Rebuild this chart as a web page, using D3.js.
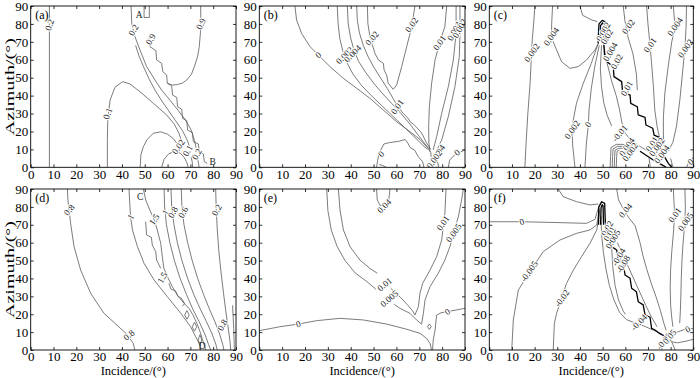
<!DOCTYPE html>
<html><head><meta charset="utf-8">
<script src="https://cdn.jsdelivr.net/npm/d3@7"></script>
<style>body{margin:0;background:#fff}svg{display:block}text{font-family:"Liberation Serif","Times New Roman",serif}</style>
</head><body><svg id="chart" width="700" height="378"></svg>
<script>
// ---------- data (incidence °, azimuth °) ----------
const incidenceTicks = [0,10,20,30,40,50,60,70,80,90];
const azimuthTicks = [0,10,20,30,40,50,60,70,80,90];
const panelTags = ["(a)","(b)","(c)","(d)","(e)","(f)"];

const aLines = [
 [[8.2,0],[8.2,90]],
 [[33.6,0],[33.6,15],[33.8,27],[34.8,37.5],[36.9,44.6],[40.3,47.8],[43.5,46.5],[47.9,42.2],[53.8,35.7],[59.6,29.2],[63,24],[65,19],[66,15]],
 [[44,90],[44.3,80.3],[45.7,72.9],[47.9,65.5],[50.8,56.2],[54.5,48.7],[57.4,43.1],[61,37.5],[64.5,32],[67.8,26.5],[70.3,21],[71.8,15],[72.5,11]],
 [[46,68],[47.5,62],[49.5,56],[52,49],[54.5,43],[57.5,37],[60.5,31.5],[63.5,26],[66.5,20.5],[68.5,15.5],[69.5,12]],
 [[48,0],[48.3,7],[49.4,11.5],[51,15.5],[53.8,19],[57,19.8],[60,18.5],[62.5,16],[64,13.5]],
 [[57.4,0],[58.5,4.5],[60.5,7.5],[63,8.7],[65.5,8],[67.3,5.5],[68.5,2.5],[69,0]],
 [[70.3,6],[70.8,3],[71,0]],
 [[73.2,4.5],[73.6,2],[73.8,0]],
 [[49.7,90],[49.7,83.6],[52,83.6],[52,90]],
 [[60,46.9],[62,45.9],[64,46.1],[66.5,47],[68.4,48.7],[70.5,52],[72,57.1],[73.2,62],[73.9,67.3],[74.4,75],[74.6,82.2],[74.5,90]],
 [[51.9,72.5],[52.3,67.3],[54.9,65.1],[55.2,59.9],[57.4,58],[57.9,53.4],[59.6,51.5],[59.9,46.9],[61.8,45.4],[62.2,40.3],[64,39],[64.4,33.8],[66.2,32.4],[66.6,27.3],[68.4,26],[68.8,20.8],[70.9,19.3],[71.3,14.3],[73.5,13],[73.9,8.7],[75.7,7.4],[76.1,3.2],[77.4,2.2]]
];
const aLabels = [["0.2",8.2,79.5,-70],["0.1",33.7,30,-70],["0.2",45,76.6,-60],["0.9",52.5,71.5,-60],["0.9",74.6,80,-65],["0.02",64.7,11.5,-55],["0.1",68.8,9.3,-60],["0.2",72.8,7.4,-60]];
const aMarks = [["A",47.6,85],["B",79.8,3.2]];

const bLines = [
 [[15.6,90],[16.3,82.2],[18.5,74.7],[22.2,67.3],[25.8,62.7],[30.9,56.2],[36.8,49.6],[42.6,44.1],[48.4,38.5],[54.2,32],[60,25.5],[65.9,19.9],[70.3,15.5],[73.2,11.5],[75,8.5]],
 [[34.1,90],[34.5,80],[35.2,72],[36.5,65],[38.5,58],[41,52],[44.5,46],[49,40],[53.5,34.5],[58,29],[62.5,23.5],[67,18],[71,13],[73.5,10]],
 [[38.5,90],[38.9,80],[40,72],[41.5,65],[43.5,59],[46.5,53],[50,47],[54,41],[58,35.5],[62,30],[66,24],[69.5,18],[72.5,13],[74.5,10]],
 [[42.6,90],[42.9,82],[43.8,75],[45.5,68],[47.5,62],[50,56],[53,50],[56,44],[58.5,38.5],[60.5,34],[63,30],[65,27.5],[66.3,25],[67.5,24],[69,22],[70.5,20],[71.5,18],[73,14],[75,10]],
 [[47.3,90],[47.5,80.3],[48.4,72.9],[50.6,63.6],[52.1,59.9],[54.3,58],[54.6,54.3],[55.7,51.5],[56.4,46.9],[58.6,43.5],[60.1,45.9],[62.3,56.2],[64.5,67.3],[66.7,78.5],[68.1,90]],
 [[82,90],[81.2,78.5],[78.8,69.2],[76.9,59.9],[75.4,46.9],[74.4,33.8],[74.1,22.7],[74.2,13.4],[74.7,8.7]],
 [[86.1,90],[86.1,74.7],[84.9,59.9],[82.7,45],[79.8,30.1],[77.6,17.1],[76.1,9.7]],
 [[87.8,90],[87.8,75],[87.5,61.7],[85.6,45],[82.7,28.3],[79.8,15.2],[77.3,8.7]],
 [[51.3,0],[51.8,4],[52.5,8],[54.5,13],[57,13.8],[61,14.5],[63.8,15.5],[65,13.5],[66,11],[68,9.5],[69.5,6],[71.5,3],[72,0]],
 [[52.5,1.5],[54,1],[55.5,0]],
 [[82.7,0],[83.3,4],[85.5,7],[88,8.5],[90,9.7]],
 [[75,8.5],[75.3,4],[75.6,0]],
 [[77,8.5],[77.8,4],[78.5,0]]
];
const bLabels = [["0",25.8,62.7,-40],["0.002",37.3,62.5,-45],["0.004",40.8,63.5,-45],["0.02",49.3,72,-50],["0.02",66.6,79.5,-55],["0.01",60.3,33.8,-55],["0.01",78.8,69.5,-55],["0.004",85.3,76,-60],["0.002",87.6,77.5,-60],["0",53.3,7.5,-45],["0",86.5,8.3,-40],["0.004",77.8,7.5,-55],["0.002",76.5,4.5,-55]];

const cLines = [
 [[20.1,90],[19.7,82.2],[19,72],[18.7,65.5],[18,46.9],[17,30],[16.3,15],[15.7,0]],
 [[27.9,90],[27.5,79.4],[27.5,72],[29.7,65.5],[31.9,58.9],[35.6,55.2],[39.3,56.2],[42.9,59.9],[46.6,65.5],[48.3,69.5]],
 [[40,90],[41.2,84.8],[45.2,82.2],[47.6,81.3]],
 [[48,69],[45,58],[41.5,47],[38.5,36],[37,26],[36.5,20.8],[36.8,12],[37.8,0]],
 [[48.5,68],[46.5,56],[45,44],[44,32],[43.7,23.6],[42.8,13],[42.2,0]],
 [[49.5,68],[49,55],[49.5,45],[50.5,36],[52,29],[54,23]],
 [[50.5,68],[52,58],[54,48],[56,40],[57.5,32],[58.5,25],[60,19],[62.5,15],[66,12],[70,9],[74,6]],
 [[59.1,90],[59.8,82],[61.2,72.6],[63.4,63.2],[64.9,52],[65.3,43]],
 [[69.4,90],[70,80],[70.9,68.2],[71.6,58],[72.4,45],[73,32],[74,23],[75,17]],
 [[81.2,90],[81.9,78.5],[80.5,70],[79,57],[77.5,42],[76.8,28],[76.8,18],[77,12]],
 [[87,90],[86.8,78],[86.3,66.4],[85.5,56],[84.1,38],[82.6,23],[81,14],[79,9]],
 [[87,0],[88.5,4],[90,5.5]],
 [[53.3,0],[53.5,6],[53.7,11],[56,12.8],[59,12.8],[62,11.2],[64,9]],
 [[54.2,0],[54.4,6],[54.6,10.3],[56.5,11.7],[59,11.7],[62,10.2]],
 [[55.1,0],[55.3,6],[55.5,9.6],[57,10.6],[59.5,10.6]],
 [[56,0],[56.2,6],[56.4,9],[57.5,9.6]],
 [[70.5,5],[71,0]],
 [[80,5],[81,0]]
];
const cThick = [
 [[48,69.2],[48.2,76],[48.4,80],[49.8,82],[51.4,81],[51.7,75],[52,69.2]],
 [[48.9,70],[49.1,79],[50,80.6],[50.8,79],[51,70]],
 [[50.5,69],[51,59.9],[54.7,56.1],[55,50.6],[58.4,47.8],[58.8,42.2],[62.1,40.3],[62.4,35.7],[65.3,33.8],[65.7,29.2],[68.7,27.9],[69.1,23.6],[72.1,21.8],[72.7,18],[75,16.7],[75.3,11.5],[76.8,6.9],[79,2.2],[80.5,0]],
 [[66.5,9],[70,6],[73,3.5],[76,1.5],[78,0]]
];
const cLabels = [["0.002",18.7,64,-55],["0.004",27.3,73,-55],["0.002",50.3,75.7,-60],["0.02",51.8,72.9,-60],["0.004",53.3,64.5,-60],["0.02",56.2,59,-60],["0.01",60.6,44,-60],["0.02",61.3,78.5,-55],["0.01",70.9,68.2,-55],["0.004",81.9,78.5,-55],["0.002",86.5,66.4,-55],["0.002",36.5,21,-55],["0",43.5,24,-55],["-0.01",57.5,19,-50],["0.004",60.6,11.4,-55],["0.002",62.1,8.6,-55],["0.01",71.7,13,-55],["0.002",73.9,11.4,-55],["0.004",76.1,7.3,-55],["0",88.7,3.2,-40]];

const dLines = [
 [[16.1,90],[16.3,84],[16.8,78.3],[17.5,70.8],[19,57.8],[21.9,44.7],[26.3,31.7],[32.1,20.5],[37.3,14.5],[42,9],[45,3.7],[45.6,0]],
 [[43.1,90],[43.5,80.1],[43.8,74.5],[44.6,67.1],[46.8,57.8],[49.7,48.4],[54.1,39.1],[59.9,29.8],[65.8,20.5],[70.1,13],[72.3,7.5],[73.8,3.7],[74.5,0]],
 [[49.4,90],[50.4,83.9],[52.2,78.3],[54.1,73],[55.5,67.1],[57,59.6],[57.7,52.2],[58.4,45.6],[59.9,41],[62.1,35.4],[64.3,30.7],[67.2,26.1],[69.4,23.3],[71.2,19.5],[72.8,15],[74.3,10],[75.5,5],[76.3,2],[76.7,0]],
 [[50.4,71.7],[50.8,64.3],[52.9,63],[53.3,58.7],[54.8,55],[55.2,50.3],[57,45.6]],
 [[60.6,37.3],[61.5,34],[63.5,33],[64.5,30],[66,29],[67.5,26],[66.5,24.5]],
 [[68.5,22],[69.5,19.6],[68.5,17.2],[67.5,19.6],[68.5,22]],
 [[71.8,15.5],[72.8,13],[71.8,10.5],[70.8,13],[71.8,15.5]],
 [[74.2,8.5],[75,5.6],[74.2,2.5],[73.4,5.6],[74.2,8.5]],
 [[58.5,90],[58.7,80],[59.5,70],[61,60],[63,50],[65.5,40],[68.3,31],[71,23],[73.8,16],[76.3,9],[78,3],[78.9,0]],
 [[61.5,90],[61.8,80],[62.8,70],[64.3,60],[66.3,50],[68.8,40],[71.5,31],[74.3,23],[77,16],[79.5,9],[81.2,3],[81.8,0]],
 [[66,90],[66.3,80],[67.2,70],[68.8,60],[70.8,50],[73.2,40],[75.8,31],[78.3,23],[80.7,16],[82.8,9],[84.2,3],[84.7,0]],
 [[81.1,90],[81.3,80],[81.8,67.1],[82.5,55],[83.3,45],[84.5,32],[85.5,22],[86.5,13],[87.3,5.6],[87.7,0]],
 [[88.5,25],[89,12],[89.3,0]]
];
const dLabels = [["0.8",16.8,78.3,-50],["0.8",43,8.4,-40],["1",43.8,74.5,-60],["1.5",54.1,73,-55],["1.5",57.7,40.5,-60],["1",59,77,-60],["0.8",62.3,77,-60],["0.6",66.8,77,-60],["0.2",81.5,78.3,-60],["0.8",84,14,-60]];
const dMarks = [["C",48,85.7],["D",75.2,2.2]];

const eLines = [
 [[0,10.8],[9,13],[17.1,14.5],[25.1,16.4],[35.3,17.7],[45.5,16.8],[55.7,14.5],[64.5,11.6],[70.3,9.3],[73.2,6.5],[74.7,3.7],[75.4,0]],
 [[29.5,90],[30,78],[31.5,67],[34,58],[37.5,50],[42,43],[47,38.3],[51,34]],
 [[34.6,90],[35.3,78.3],[36.8,67.1],[39.7,57.8],[44,50.3],[48.4,45.6],[51.6,42.9]],
 [[57.5,34.5],[60,31.5],[62.5,28.5],[65,25],[67,22],[68.1,19.6],[69.6,24.2],[70.3,31.7],[71.5,37.3],[74.7,44.7],[77.6,52.2],[79.8,61.5],[80.5,68.9],[81.2,76.4],[81.7,90]],
 [[59,25.5],[61.5,23.3],[65.9,20.5],[68.8,16.8],[71,14.5],[71.8,20.5],[72.5,27.9],[74.7,35.4],[78.3,42.9],[81.2,50.3],[83.4,57.8],[84.2,61.5],[84.9,65.2],[87.1,74.5],[88.5,83.9],[89.3,90]],
 [[90,23.3],[86.3,22.4],[82,21.4],[79.5,20.8],[77.6,19.5],[76.9,11.2],[76.1,5.6],[75.8,0]],
 [[74.4,14.5],[75.2,13],[74.4,11.5],[73.6,13],[74.4,14.5]],
 [[51.3,90],[51.6,83.9],[52.8,81],[55,80],[56.5,82],[57.2,90]]
];
const eLabels = [["0",17.1,14.5,-20],["0.01",54.8,36.8,-40],["0.005",56.8,28.8,-40],["0.01",80.3,71,-55],["0.005",85,65.5,-55],["0.04",54.6,80.5,-45],["0",82.3,21.4,-35]];

const fLines = [
 [[0,71.7],[14.3,71.7],[31.2,71.2],[42.9,70.8],[46.6,73],[48.1,79.2],[49.3,82]],
 [[30.4,90],[32.6,85.7],[38.5,82.9],[44.4,81.1],[48.1,81.6]],
 [[9.9,0],[10.6,16.8],[12.8,33.5],[17.9,43.8],[23.8,55],[31.2,61.5],[38.5,65.2],[44.4,67.1],[47.4,69.9],[48.5,79.2]],
 [[28.2,0],[28.7,14.9],[29.7,20.5],[31.9,28.9],[34.1,37.3],[37.1,44.7],[40.7,52.2],[44.4,59.6],[47.4,67.1],[48.8,78.3]],
 [[49.3,75],[49.5,65],[50.3,55],[51.5,45],[53,36],[55,28],[57.5,21],[60.5,17],[63.5,15.5],[66,14.5],[69,13],[72.5,11],[76,9]],
 [[54,57],[54.5,46],[55.5,36],[57,28],[59,22],[60,20]],
 [[56.5,60],[59,53],[61.5,46],[64,39],[66.5,32],[69,25],[71.5,18.5],[74,13]],
 [[56.2,90],[57,84],[59,79],[61.5,74],[64.3,69.5],[66.5,60],[67.8,52.7],[69.5,45],[71.5,37],[73.5,30],[75.5,22],[77,15],[78,11]],
 [[81.2,90],[81.5,82],[81.8,75.5],[81.2,65],[80.5,55],[80,45],[79.8,35],[80,25],[80.5,18],[81,13]],
 [[86.3,90],[86.5,80],[86.3,71.7],[85.5,60],[85,50],[84.7,40],[84.5,30],[84.3,22],[84,15]],
 [[80.5,9],[84,10.5],[86.5,11.6],[90,12]],
 [[77,6],[76.5,3],[76,0]],
 [[80,6],[81,3],[82,0]],
 [[79,5],[83,4],[87,5],[90,6]]
];
const fThick = [
 [[48.2,70],[48.3,80.1],[49.6,82.9],[50.9,82],[51.2,70.8]],
 [[49.1,70],[49.3,79.5],[49.8,81.2],[50.2,80.5],[50.4,70]],
 [[51.2,70.8],[51.8,65.2],[54,57.8],[56.2,55.9],[56.9,50.3],[59.1,48.4],[59.9,41.9],[62.1,40.1],[62.8,34.5],[64.9,32.6],[65.7,27],[67.9,25.2],[68.7,19.6],[70.9,18.3],[71.6,12.1],[73.1,11.2],[75,9.3],[77,8],[78,6]]
];
const fLabels = [["0",14.3,71.7,-20],["-0.005",17.5,44,-55],["-0.02",32,29,-55],["0.04",60,78,-50],["0.01",81.8,75.5,-55],["0.005",86.5,71.7,-55],["-0.04",66,15.5,-45],["0.02",52,68,-60],["0.01",53,65,-60],["0.005",54.5,62,-60],["-0.04",57,52,-60],["-0.08",59,48,-60],["0",87.5,11.6,-30],["-0.05",77,5,-50],["0.05",79.5,7.5,-50]];

// ---------- drawing ----------
const panels = [
 {lines:aLines, thick:[], labels:aLabels, marks:aMarks},
 {lines:bLines, thick:[], labels:bLabels, marks:[]},
 {lines:cLines, thick:cThick, labels:cLabels, marks:[]},
 {lines:dLines, thick:[], labels:dLabels, marks:dMarks},
 {lines:eLines, thick:[], labels:eLabels, marks:[]},
 {lines:fLines, thick:fThick, labels:fLabels, marks:[]}
];
const FONT = "Liberation Serif, Times New Roman, serif";
const svg = d3.select("#chart");
const colX = [[30.7,236],[259.3,465],[489.3,693.3]];
const rowY = [[6,167.3],[189,350]];
const defs = svg.append("defs");

panels.forEach((p,i)=>{
  const c = i%3, r = Math.floor(i/3);
  const x = d3.scaleLinear().domain([0,90]).range(colX[c]);
  const y = d3.scaleLinear().domain([0,90]).range([rowY[r][1], rowY[r][0]]);
  const g = svg.append("g");
  defs.append("clipPath").attr("id","clip"+i).append("rect")
    .attr("x",x(0)).attr("y",y(90)).attr("width",x(90)-x(0)).attr("height",y(0)-y(90));
  const line = d3.line().x(d=>x(d[0])).y(d=>y(d[1]));
  const cg = g.append("g").attr("clip-path",`url(#clip${i})`);
  cg.selectAll("path.c").data(p.lines).join("path").attr("class","c")
    .attr("d",line).attr("fill","none").attr("stroke","#5a5a5a").attr("stroke-width",0.8);
  cg.selectAll("path.t").data(p.thick).join("path").attr("class","t")
    .attr("d",line).attr("fill","none").attr("stroke","#000").attr("stroke-width",1.3).attr("stroke-linejoin","round");
  cg.selectAll("text.l").data(p.labels).join("text").attr("class","l")
    .attr("transform",d=>`translate(${x(d[1])},${y(d[2])}) rotate(${d[3]})`)
    .attr("text-anchor","middle").attr("dy","0.35em").attr("font-size",9).attr("font-family",FONT)
    .attr("fill","#222").attr("stroke","#fff").attr("stroke-width",2.2)
    .attr("paint-order","stroke").text(d=>d[0]);
  cg.selectAll("text.m").data(p.marks).join("text").attr("class","m")
    .attr("x",d=>x(d[1])).attr("y",d=>y(d[2])).attr("text-anchor","middle").attr("dy","0.35em")
    .attr("font-size",9.5).attr("font-family",FONT).attr("fill","#222").text(d=>d[0]);

  // axes
  const style = sel => { sel.select(".domain").remove();
    sel.attr("font-size",13).attr("font-family",FONT);
    sel.selectAll("line").attr("stroke","#000").attr("stroke-width",0.8);
    sel.selectAll("text").attr("fill","#000"); };
  g.append("g").attr("transform",`translate(0,${y(0)})`)
    .call(d3.axisBottom(x).tickValues(incidenceTicks).tickSizeInner(-3).tickSizeOuter(0).tickPadding(2)).call(style);
  g.append("g").attr("transform",`translate(${x(0)},0)`)
    .call(d3.axisLeft(y).tickValues(azimuthTicks).tickSizeInner(-3).tickSizeOuter(0).tickPadding(2.5)).call(style);
  g.append("g").attr("transform",`translate(0,${y(90)})`)
    .call(d3.axisTop(x).tickValues(incidenceTicks).tickSizeInner(-3).tickSizeOuter(0).tickFormat("")).call(style);
  g.append("g").attr("transform",`translate(${x(90)},0)`)
    .call(d3.axisRight(y).tickValues(azimuthTicks).tickSizeInner(-3).tickSizeOuter(0).tickFormat("")).call(style);
  g.append("rect").attr("x",x(0)).attr("y",y(90)).attr("width",x(90)-x(0)).attr("height",y(0)-y(90))
    .attr("fill","none").attr("stroke","#000").attr("stroke-width",0.9);
  g.append("text").attr("x",x(0)+4.5).attr("y",y(90)+13).attr("font-size",12).attr("font-family",FONT)
    .attr("fill","#000").text(panelTags[i]);

  if (c===0) {
    g.append("text").attr("transform",`translate(14,${(y(0)+y(90))/2}) rotate(-90)`)
      .attr("text-anchor","middle").attr("font-size",13.5).attr("font-family",FONT).attr("textLength",97)
      .attr("lengthAdjust","spacingAndGlyphs").attr("fill","#000").text("Azimuth/(°)");
  }
  if (r===1) {
    g.append("text").attr("x",(x(0)+x(90))/2).attr("y",375).attr("text-anchor","middle")
      .attr("font-size",12.5).attr("font-family",FONT).attr("fill","#000").text("Incidence/(°)");
  }
});
</script></body></html>
